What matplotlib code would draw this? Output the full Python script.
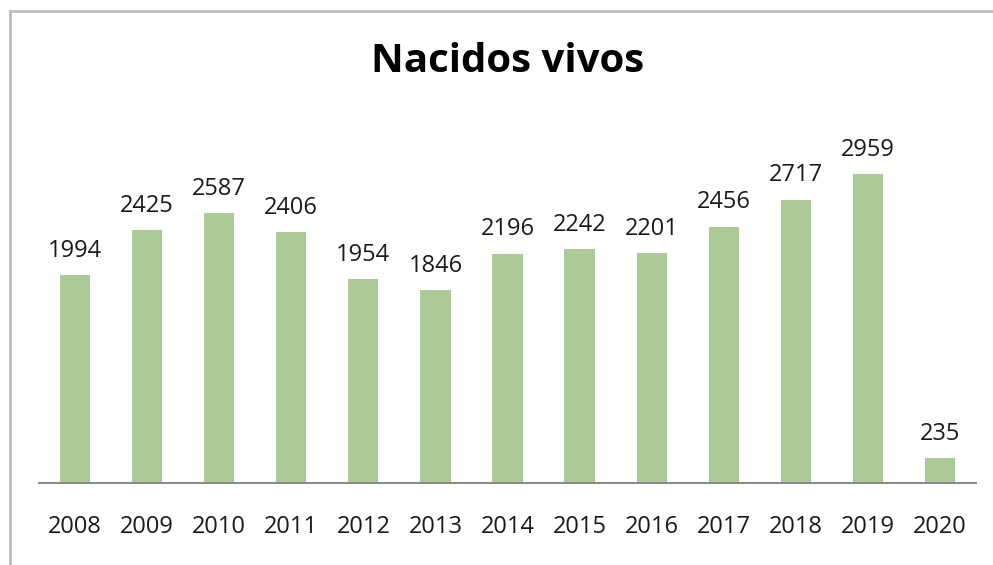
import matplotlib.pyplot as plt
from matplotlib.lines import Line2D

# data
years = ['2008', '2009', '2010', '2011', '2012', '2013', '2014',
         '2015', '2016', '2017', '2018', '2019', '2020']
births = [1994, 2425, 2587, 2406, 1954, 1846, 2196,
          2242, 2201, 2456, 2717, 2959, 235]

W, H = 993, 565
fig = plt.figure(figsize=(W / 100, H / 100), dpi=100)
ax = fig.add_axes([39 / W, 1 - 483 / H, 937 / W, 365 / H])

x = range(len(years))
bars = ax.bar(x, births, width=0.42, color='#adc995')

for xi, v in zip(x, births):
    ax.annotate(str(v), (xi, v), xytext=(0, 9), textcoords='offset points',
                ha='center', va='bottom', fontsize=17, family='Open Sans',
                color='#1a1a1a')

ax.set_xlim(-0.5, len(years) - 0.5)
ax.set_ylim(0, 3500)
ax.set_xticks(list(x))
ax.set_xticklabels(years, fontsize=17, family='Open Sans', color='#1a1a1a')
ax.tick_params(axis='x', length=0, pad=23)
ax.set_yticks([])
for s in ['top', 'right', 'left']:
    ax.spines[s].set_visible(False)
ax.spines['bottom'].set_color('#8c8c8c')
ax.spines['bottom'].set_linewidth(1.5)

fig.text(508 / W, 1 - 62 / H, 'Nacidos vivos', ha='center', va='center',
         fontsize=29, fontweight='bold', family='Open Sans', color='black')

# outer chart frame (only left and top edges are visible)
fig.add_artist(Line2D([10 / W, 10 / W], [0, 1 - 11 / H], transform=fig.transFigure,
                      color='#bdbdbd', lw=2))
fig.add_artist(Line2D([10 / W, 1], [1 - 11 / H, 1 - 11 / H], transform=fig.transFigure,
                      color='#bdbdbd', lw=2))

fig.savefig('out.png', dpi=100)
